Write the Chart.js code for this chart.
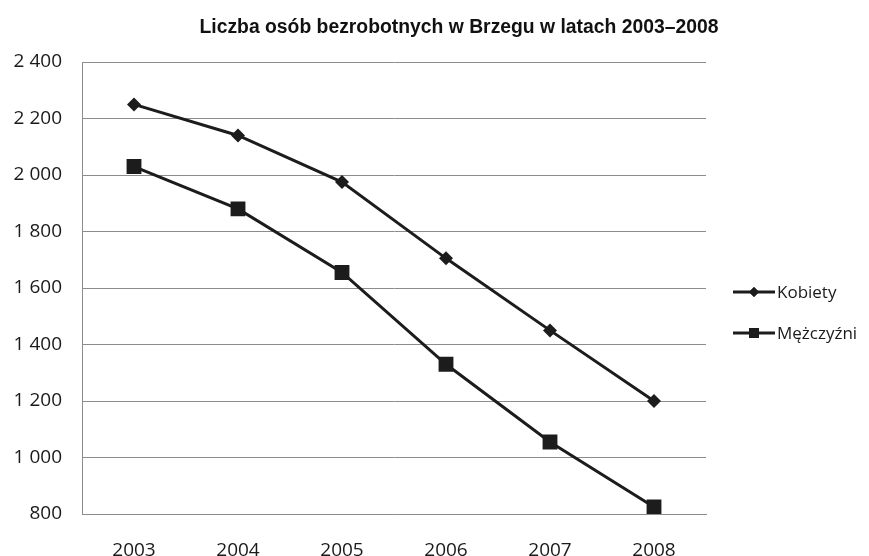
<!DOCTYPE html>
<html>
<head>
<meta charset="utf-8">
<script src="https://cdn.jsdelivr.net/npm/chart.js@4.4.0/dist/chart.umd.min.js"></script>
<style>
  html, body { margin: 0; padding: 0; background: #ffffff; }
  #wrap { width: 869px; height: 556px; position: relative; }
</style>
</head>
<body>
<div id="wrap"><canvas id="c" width="869" height="556"></canvas></div>
<script>
const title = 'Liczba osób bezrobotnych w Brzegu w latach 2003–2008';
const years = ['2003', '2004', '2005', '2006', '2007', '2008'];
const seriesNames = ['Kobiety', 'Mężczyźni'];
const kobiety = [2250, 2140, 1975, 1705, 1450, 1200];
const mezczyzni = [2030, 1880, 1655, 1330, 1055, 825];
const yMin = 800, yMax = 2400, yStep = 200;

const ink = '#1c1c1c';
const gridColor = '#8c8c8c';
const tickFont = "'Open Sans', 'DejaVu Sans', sans-serif";

function fmt(v) {
  const s = String(v);
  return s.length > 3 ? s.slice(0, s.length - 3) + ' ' + s.slice(-3) : s;
}

const titlePlugin = {
  id: 'customTitle',
  afterDraw(chart) {
    const ctx = chart.ctx;
    ctx.save();
    ctx.font = "bold 20px 'Liberation Sans', sans-serif";
    ctx.fillStyle = '#111';
    ctx.textAlign = 'center';
    ctx.textBaseline = 'alphabetic';
    const w = ctx.measureText(title).width;
    const sx = Math.min(1, 519 / w);
    ctx.translate(459, 33);
    ctx.scale(sx, 1);
    ctx.fillText(title, 0, 0);
    ctx.restore();
  }
};

const legendPlugin = {
  id: 'customLegend',
  afterDraw(chart) {
    const ctx = chart.ctx;
    const ys = [292, 333];
    ctx.save();
    chart.data.datasets.forEach((ds, i) => {
      const y = ys[i];
      ctx.strokeStyle = ds.borderColor;
      ctx.lineWidth = 3;
      ctx.beginPath();
      ctx.moveTo(733, y);
      ctx.lineTo(775, y);
      ctx.stroke();
      ctx.fillStyle = ds.pointBackgroundColor;
      Chart.helpers.drawPoint(ctx, { pointStyle: ds.pointStyle, radius: i === 0 ? 5 : 7, rotation: 0, borderWidth: 0 }, 754, y);
      ctx.fill();
      ctx.fillStyle = '#1a1a1a';
      ctx.font = "17px " + tickFont;
      ctx.textAlign = 'left';
      ctx.textBaseline = 'middle';
      ctx.fillText(ds.label, 777, y + 1);
    });
    ctx.restore();
  }
};

new Chart(document.getElementById('c'), {
  type: 'line',
  data: {
    labels: years,
    datasets: [
      {
        label: seriesNames[0],
        data: kobiety,
        borderColor: ink,
        backgroundColor: ink,
        pointBackgroundColor: ink,
        pointBorderColor: ink,
        borderWidth: 3,
        pointStyle: 'rectRot',
        pointRadius: 7,
        pointBorderWidth: 0,
        tension: 0
      },
      {
        label: seriesNames[1],
        data: mezczyzni,
        borderColor: ink,
        backgroundColor: ink,
        pointBackgroundColor: ink,
        pointBorderColor: ink,
        borderWidth: 3,
        pointStyle: 'rect',
        pointRadius: 10.5,
        pointBorderWidth: 0,
        tension: 0
      }
    ]
  },
  options: {
    responsive: false,
    animation: false,
    events: [],
    layout: { padding: { left: 0, right: 163, top: 62, bottom: 0 } },
    plugins: {
      legend: { display: false },
      title: { display: false },
      tooltip: { enabled: false }
    },
    scales: {
      x: {
        offset: true,
        grid: { display: false },
        border: { display: true, color: gridColor, width: 1 },
        ticks: {
          padding: 17,
          color: '#1a1a1a',
          font: { family: tickFont, size: 19 },
          maxRotation: 0
        },
        afterFit(s) { s.height = 42; }
      },
      y: {
        min: yMin,
        max: yMax,
        grid: { color: gridColor, lineWidth: 1, drawTicks: false },
        border: { display: true, color: gridColor, width: 1 },
        ticks: {
          stepSize: yStep,
          padding: 20,
          color: '#1a1a1a',
          font: { family: tickFont, size: 19 },
          callback: v => fmt(v)
        },
        afterFit(s) { s.width = 82; }
      }
    }
  },
  plugins: [titlePlugin, legendPlugin]
});
</script>
</body>
</html>
